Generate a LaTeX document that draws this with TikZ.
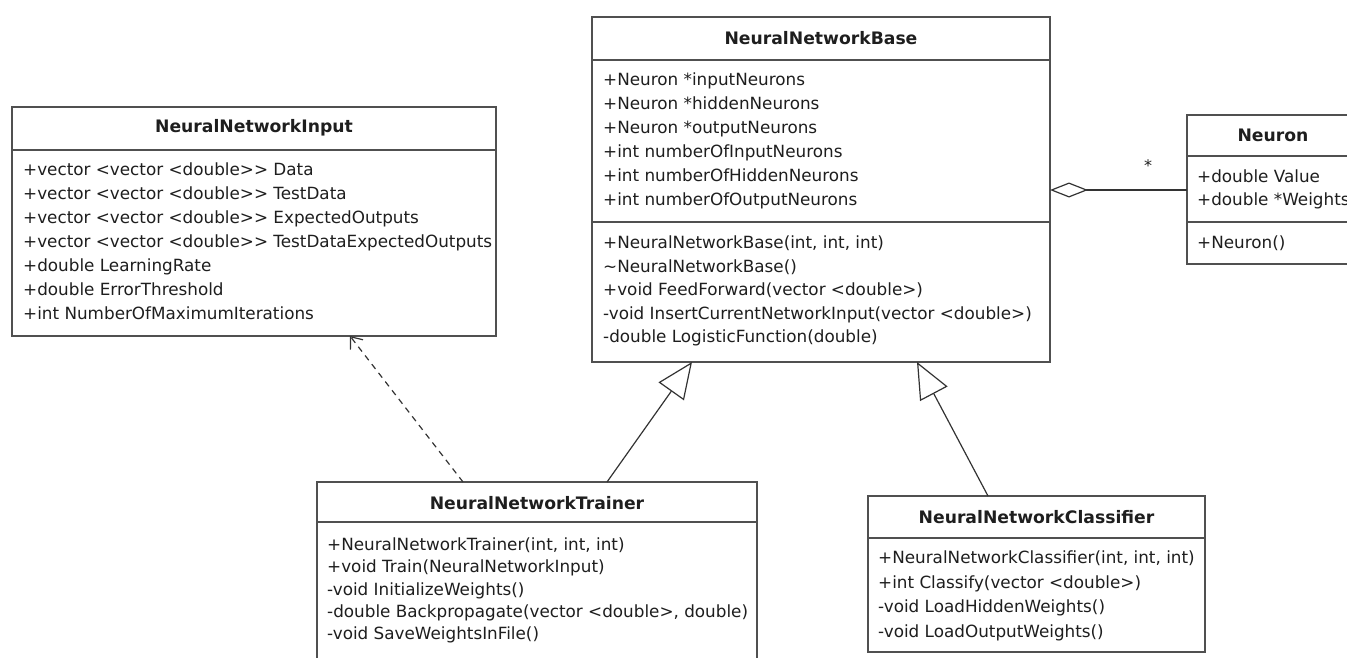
\documentclass[tikz,border=0pt]{standalone}
\usepackage{fontspec}
\setmainfont{DejaVu Sans}
\usetikzlibrary{arrows.meta,calc}
\definecolor{boxc}{HTML}{505050}
\definecolor{linec}{HTML}{333333}
\definecolor{txt}{HTML}{1E1E1E}
\newcommand{\twogt}{>\kern0pt>}
\begin{document}
\begin{tikzpicture}[x=1pt,y=-1pt,
  box/.style={draw=boxc, line width=1.6pt, fill=white, anchor=north west, inner sep=0pt, outer sep=0pt},
  sep/.style={draw=boxc, line width=1.6pt},
  title/.style={font=\fontsize{17.2}{20}\selectfont\bfseries, text=txt, inner sep=0pt},
  member/.style={font=\fontsize{16.8}{20}\selectfont, text=txt, anchor=base west, inner sep=0pt},
  conn/.style={draw=linec, line width=1.2pt},
]
\useasboundingbox (0,0) rectangle (1347,658);
\clip (0,0) rectangle (1347,658);

% ---------- NeuralNetworkInput ----------
\node[box, minimum width=484pt, minimum height=229pt] (input) at (12,107) {};
\draw[sep] ($(input.north west)+(0,43)$) -- ($(input.north east)+(0,43)$);
\node[title] (inputT) at (254,128) {NeuralNetworkInput};
\node[member] (i1) at (23,175.5) {+vector <vector <double\twogt{} Data};
\node[member] (i2) at (23,199.5) {+vector <vector <double\twogt{} TestData};
\node[member] (i3) at (23,223.5) {+vector <vector <double\twogt{} ExpectedOutputs};
\node[member] (i4) at (23,247.5) {+vector <vector <double\twogt{} TestDataExpectedOutputs};
\node[member] (i5) at (23,271.5) {+double LearningRate};
\node[member] (i6) at (23,295.5) {+double ErrorThreshold};
\node[member] (i7) at (23,319.5) {+int NumberOfMaximumIterations};

% ---------- NeuralNetworkBase ----------
\node[box, minimum width=458pt, minimum height=345pt] (base) at (592,17) {};
\draw[sep] ($(base.north west)+(0,43)$) -- ($(base.north east)+(0,43)$);
\draw[sep] ($(base.north west)+(0,205)$) -- ($(base.north east)+(0,205)$);
\node[title] (baseT) at (821,38) {NeuralNetworkBase};
\node[member] (b1) at (603,85.5) {+Neuron *inputNeurons};
\node[member] (b2) at (603,109.5) {+Neuron *hiddenNeurons};
\node[member] (b3) at (603,133.5) {+Neuron *outputNeurons};
\node[member] (b4) at (603,157.5) {+int numberOfInputNeurons};
\node[member] (b5) at (603,181.5) {+int numberOfHiddenNeurons};
\node[member] (b6) at (603,205.5) {+int numberOfOutputNeurons};
\node[member] (b7) at (603,248.5) {+NeuralNetworkBase(int, int, int)};
\node[member] (b8) at (603,272) {\textasciitilde NeuralNetworkBase()};
\node[member] (b9) at (603,295.5) {+void FeedForward(vector <double>)};
\node[member] (b10) at (603,319) {-void InsertCurrentNetworkInput(vector <double>)};
\node[member] (b11) at (603,342.5) {-double LogisticFunction(double)};

% ---------- Neuron ----------
\node[box, minimum width=172pt, minimum height=149pt] (neuron) at (1187,115) {};
\draw[sep] ($(neuron.north west)+(0,41)$) -- ($(neuron.north east)+(0,41)$);
\draw[sep] ($(neuron.north west)+(0,107)$) -- ($(neuron.north east)+(0,107)$);
\node[title] (neuronT) at (1273,135) {Neuron};
\node[member] (n1) at (1197,182.5) {+double Value};
\node[member] (n2) at (1197,205.5) {+double *Weights};
\node[member] (n3) at (1197,248.5) {+Neuron()};

% ---------- NeuralNetworkTrainer ----------
\node[box, minimum width=440pt, minimum height=200pt] (trainer) at (317,482) {};
\draw[sep] ($(trainer.north west)+(0,40)$) -- ($(trainer.north east)+(0,40)$);
\node[title] (trainerT) at (537,503) {NeuralNetworkTrainer};
\node[member] (t1) at (327,550.5) {+NeuralNetworkTrainer(int, int, int)};
\node[member] (t2) at (327,572.5) {+void Train(NeuralNetworkInput)};
\node[member] (t3) at (327,595) {-void InitializeWeights()};
\node[member] (t4) at (327,617.5) {-double Backpropagate(vector <double>, double)};
\node[member] (t5) at (327,639.5) {-void SaveWeightsInFile()};

% ---------- NeuralNetworkClassifier ----------
\node[box, minimum width=337pt, minimum height=156pt] (classifier) at (868,496) {};
\draw[sep] ($(classifier.north west)+(0,42)$) -- ($(classifier.north east)+(0,42)$);
\node[title] (classifierT) at (1036.5,517) {NeuralNetworkClassifier};
\node[member] (c1) at (878,563.5) {+NeuralNetworkClassifier(int, int, int)};
\node[member] (c2) at (878,588) {+int Classify(vector <double>)};
\node[member] (c3) at (878,612.5) {-void LoadHiddenWeights()};
\node[member] (c4) at (878,637) {-void LoadOutputWeights()};

% ---------- connectors ----------
\coordinate (dA) at ($(trainer.north west)+(146,0)$);
\coordinate (dB) at ($(input.south west)+(338,0)$);
\draw[conn, dash pattern=on 6pt off 5pt, -{Straight Barb[length=10pt,width=16pt]}] (dA) -- (dB);

\coordinate (gA) at ($(trainer.north west)+(290,0)$);
\coordinate (gB) at ($(base.south west)+(100,0)$);
\draw[conn, -{Triangle[open,length=36pt,width=31pt,fill=white]}] (gA) -- (gB);

\coordinate (hA) at ($(classifier.north west)+(120,0)$);
\coordinate (hB) at ($(base.south west)+(325,0)$);
\draw[conn, -{Triangle[open,length=36pt,width=31pt,fill=white]}] (hA) -- (hB);

\coordinate (aA) at ($(base.north east)+(0,173)$);
\coordinate (aB) at ($(neuron.north west)+(0,75)$);
\draw[conn, {Diamond[open,length=38pt,width=15pt,fill=white]}-] (aA) -- (aB);
\node[font=\fontsize{16}{20}\selectfont, text=txt, inner sep=0pt] (star) at (1148,166) {*};
\end{tikzpicture}
\end{document}
